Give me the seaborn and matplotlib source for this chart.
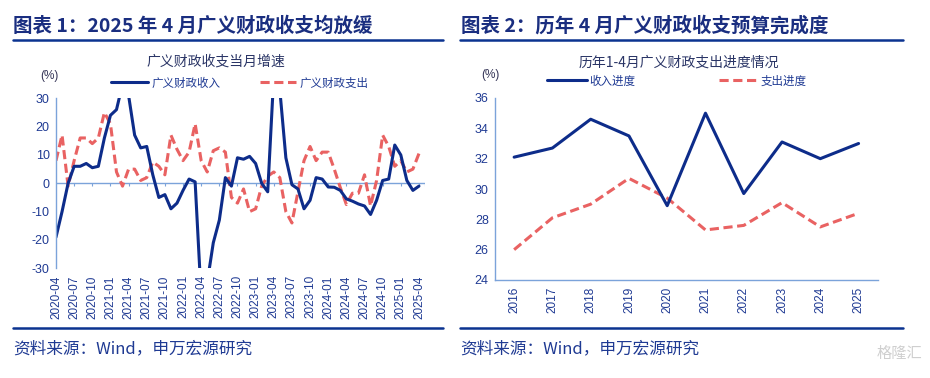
import matplotlib
matplotlib.use("Agg")
import matplotlib.pyplot as plt
from matplotlib.lines import Line2D
import numpy as np
import pandas as pd
import seaborn as sns

# ── Data ─────────────────────────────────────────────────────────────────────

months = pd.period_range("2020-04", "2025-04", freq="M").strftime("%Y-%m").tolist()

revenue_yoy = [-19, -10, 0, 6, 6, 7, 5.5, 6, 16, 24,
               26, 35, 31, 17, 12.5, 13, 3, -5, -4, -9,
               -7, -2.5, 1.5, 0.5, -40, -35, -21, -13, 2, -1,
               9, 8.5, 9.5, 7, 0, -3, 38, 33, 9, -0.5,
               -2, -9, -6, 2, 1.5, -1.3, -1.4, -2.5, -5.5, -6.3,
               -7.3, -8, -11, -6, 1, 1.5, 13.5, 10, 1, -2.5,
               -1]
expense_yoy = [8, 17, -1, 8, 16, 16, 14, 16, 25, 21,
               4, -1, 5, 5, 1, 2, 7.5, 6, 3, 17,
               12, 8, 11, 21, 8, 4, 11.5, 12.5, 11, -5,
               -7, -2, -10, -9, -1, 2.5, 4, 2, -10, -14,
               -3, 8, 13, 8, 11, 11, 5, -1.5, -7.5, -3.5,
               -3.5, 3, -8, 1, 17, 13, 6, 8, 4, 5,
               10.5]

years = ["2016", "2017", "2018", "2019", "2020", "2021", "2022", "2023", "2024", "2025"]
revenue_progress = [32.1, 32.7, 34.6, 33.5, 28.9, 35.0, 29.7, 33.1, 32.0, 33.0]
expense_progress = [26.0, 28.1, 29.0, 30.7, 29.4, 27.3, 27.6, 29.1, 27.5, 28.4]

# ── Style ────────────────────────────────────────────────────────────────────

NAVY = "#0D2C8A"
RED = "#E96262"
AXIS = "#7BA3DA"
TEXT = "#1F3A93"
TITLE = "#1A2E80"
RULE = "#0B3390"

sns.set_theme(style="white")
plt.rcParams["font.family"] = ["Liberation Sans", "Noto Sans CJK SC", "DejaVu Sans"]
plt.rcParams["axes.unicode_minus"] = False
CJK = ["Noto Sans CJK SC", "DejaVu Sans"]

W, H = 930, 378
fig = plt.figure(figsize=(W / 100, H / 100), dpi=100)


def px(x, y):
    return x / W, 1 - y / H


def style_axes(ax):
    for side in ["top", "right"]:
        ax.spines[side].set_visible(False)
    ax.spines["left"].set_color(AXIS)
    ax.spines["left"].set_linewidth(1.0)
    ax.tick_params(axis="y", colors=AXIS, labelcolor=TEXT, labelsize=9,
                   length=2.5, width=0.8, direction="out", pad=2)
    ax.set_xlabel("")
    ax.set_ylabel("")
    ax.set_facecolor("none")


def dash_last(ax):
    ax.lines[-1].set_linestyle((0, (3, 1.5)))


# ── Left: monthly growth ─────────────────────────────────────────────────────

df_m = pd.DataFrame({"月份": months, "广义财政收入": revenue_yoy, "广义财政支出": expense_yoy})
ax1 = fig.add_axes([56 / W, 109.7 / H, (425 - 56) / W, 170 / H])
sns.lineplot(data=df_m, x="月份", y="广义财政支出", ax=ax1, color=RED, lw=2.2,
             sort=False, label="广义财政支出")
dash_last(ax1)
sns.lineplot(data=df_m, x="月份", y="广义财政收入", ax=ax1, color=NAVY, lw=2.2,
             sort=False, label="广义财政收入")
ax1.set_ylim(-30, 30)
ax1.set_yticks([-30, -20, -10, 0, 10, 20, 30])
ax1.set_xlim(0, len(months))
style_axes(ax1)
ax1.spines["bottom"].set_visible(False)
tick_pos = list(range(0, len(months), 3))
ax1.set_xticks(tick_pos)
ax1.set_xticklabels([months[i] for i in tick_pos], rotation=90)
ax1.tick_params(axis="x", length=0, labelsize=8.5, labelcolor=TEXT, pad=5)
ax1.axhline(0, color=AXIS, lw=1.0, zorder=1)
ax1.vlines(tick_pos[1:] + [len(months)], -1.1, 0, color=AXIS, lw=0.8, zorder=1)

h1, l1 = ax1.get_legend_handles_labels()
ax1.legend([h1[1], h1[0]], [l1[1], l1[0]], loc="center", ncol=2,
           bbox_to_anchor=px(240, 83), bbox_transform=fig.transFigure,
           frameon=False, prop={"family": CJK, "size": 8.3},
           handlelength=3.2, handletextpad=0.3, columnspacing=3.4, labelcolor=TEXT)
fig.text(*px(216, 62), "广义财政收支当月增速", ha="center", va="center",
         fontsize=10, color="#2A3566", family=CJK)
fig.text(*px(49, 76), "(%)", ha="center", va="center", fontsize=8.5, color="#333355")

# ── Right: Jan-Apr budget progress ──────────────────────────────────────────

df_y = pd.DataFrame({"年份": years, "收入进度": revenue_progress, "支出进度": expense_progress})
ax2 = fig.add_axes([495 / W, 98 / H, (877.7 - 495) / W, 182 / H])
sns.lineplot(data=df_y, x="年份", y="支出进度", ax=ax2, color=RED, lw=2.2,
             sort=False, label="支出进度")
dash_last(ax2)
sns.lineplot(data=df_y, x="年份", y="收入进度", ax=ax2, color=NAVY, lw=2.2,
             sort=False, label="收入进度")
ax2.set_ylim(24, 36)
ax2.set_yticks(range(24, 37, 2))
ax2.set_xlim(-0.5, len(years) - 0.5)
style_axes(ax2)
ax2.spines["bottom"].set_color(AXIS)
ax2.spines["bottom"].set_linewidth(1.0)
ax2.set_xticks(range(len(years)))
ax2.set_xticklabels(years, rotation=90)
ax2.tick_params(axis="x", length=0, labelsize=8.5, labelcolor=TEXT, pad=5)
ax2.set_xticks(np.arange(-0.5, len(years)), minor=True)
ax2.tick_params(axis="x", which="minor", length=2.5, width=0.8, colors=AXIS, direction="out")

h2, l2 = ax2.get_legend_handles_labels()
ax2.legend([h2[1], h2[0]], [l2[1], l2[0]], loc="center", ncol=2,
           bbox_to_anchor=px(677, 81), bbox_transform=fig.transFigure,
           frameon=False, prop={"family": CJK, "size": 8.3},
           handlelength=3.4, handletextpad=0.2, columnspacing=7.3, labelcolor=TEXT)
fig.text(*px(679, 63), "历年1-4月广义财政支出进度情况", ha="center", va="center",
         fontsize=10, color="#2A3566", family=CJK)
fig.text(*px(490, 75), "(%)", ha="center", va="center", fontsize=8.5, color="#333355")

# ── Frame: titles, rules, sources ───────────────────────────────────────────

fig.text(*px(13, 26), "图表 1：2025 年 4 月广义财政收支均放缓", ha="left", va="center",
         fontsize=14, fontweight="bold", color=TITLE, family=CJK)
fig.text(*px(461, 26), "图表 2：历年 4 月广义财政收支预算完成度", ha="left", va="center",
         fontsize=14, fontweight="bold", color=TITLE, family=CJK)

for x0, x1 in [(13, 443), (460, 903)]:
    for y in (39.5, 328.3):
        fig.add_artist(Line2D([x0 / W, x1 / W], [1 - y / H] * 2, color=RULE, lw=1.8))

for x0 in (13, 460):
    fig.text(*px(x0, 349), "资料来源：Wind，申万宏源研究", ha="left", va="center",
             fontsize=12, color=TEXT, family=CJK)

fig.text(*px(922, 353), "格隆汇", ha="right", va="center", fontsize=11,
         color="#CFCFCF", family=CJK)

fig.savefig("out.png", dpi=100, facecolor="white")
